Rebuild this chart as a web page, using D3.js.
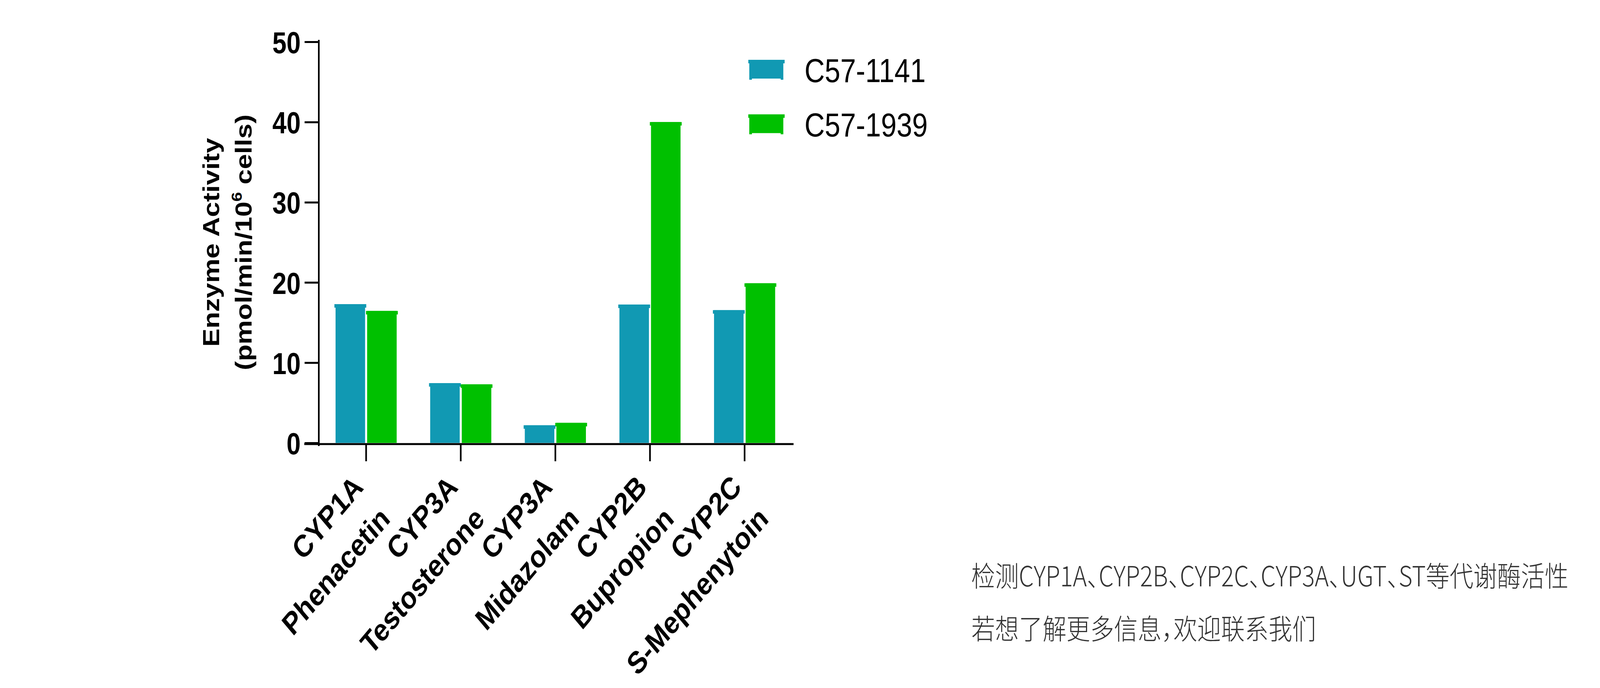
<!DOCTYPE html>
<html>
<head>
<meta charset="utf-8">
<script src="https://cdn.jsdelivr.net/npm/d3@7"></script>
<style>
  html, body { margin: 0; padding: 0; background: #ffffff; overflow: hidden; }
  svg { display: block; }
</style>
</head>
<body>
<svg id="chart"></svg>
<script>
// ---- data ----
const enzymes = ["CYP1A", "CYP3A", "CYP3A", "CYP2B", "CYP2C"];
const substrates = ["Phenacetin", "Testosterone", "Midazolam", "Bupropion", "S-Mephenytoin"];
const seriesNames = ["C57-1141", "C57-1939"];
const valuesC57_1141 = [17.3, 7.45, 2.2, 17.25, 16.55];
const valuesC57_1939 = [16.45, 7.3, 2.5, 40.0, 19.9];
const yTicks = [0, 10, 20, 30, 40, 50];
const yTitleLine1 = "Enzyme Activity";
const noteLines = ["检测CYP1A、CYP2B、CYP2C、CYP3A、UGT、ST等代谢酶活性", "若想了解更多信息，欢迎联系我们"];

const colors = ["#1199B3", "#00C000"];
const categories = enzymes.map((e, i) => e + " " + substrates[i]);
const rows = categories.map((c, i) => ({ cat: c, vals: [valuesC57_1141[i], valuesC57_1939[i]] }));

// design canvas is 4843x1760; fit it to whatever viewport the browser gives
const W = 4843, H = 1760;
const svg = d3.select("#chart")
  .attr("width", window.innerWidth || W)
  .attr("height", window.innerHeight || H)
  .attr("viewBox", `0 0 ${W} ${H}`)
  .attr("preserveAspectRatio", "none");
svg.append("rect").attr("width", W).attr("height", H).attr("fill", "#fff");

const font = "'Liberation Sans', Arial, Helvetica, sans-serif";

// scales
const y = d3.scaleLinear().domain([0, 50]).range([1133, 107]);
const x0 = d3.scaleBand().domain(categories).range([965, 2397]).padding(0);
const bw = x0.bandwidth();
const x1 = d3.scaleBand().domain(seriesNames).range([bw / 2 - 92.5, bw / 2 + 92.5]).paddingInner(0.065);

// bars
const groups = svg.append("g").selectAll("g").data(rows).join("g")
  .attr("transform", d => `translate(${x0(d.cat)},0)`);
const barData = d => d.vals.map((v, k) => ({ s: seriesNames[k], v, k }));
groups.selectAll("rect.body").data(barData).join("rect").attr("class", "body")
  .attr("x", d => x1(d.s)).attr("width", x1.bandwidth())
  .attr("y", d => y(d.v)).attr("height", d => y(0) - y(d.v))
  .attr("fill", d => colors[d.k]);
groups.selectAll("rect.cap").data(barData).join("rect").attr("class", "cap")
  .attr("x", d => x1(d.s) - 3.5).attr("width", x1.bandwidth() + 7)
  .attr("y", d => y(d.v)).attr("height", 9)
  .attr("fill", d => colors[d.k]);

// y axis
const yAxis = svg.append("g").attr("transform", "translate(965,0)")
  .call(d3.axisLeft(y).tickValues(yTicks).tickSize(43).tickSizeOuter(0).tickPadding(12));
yAxis.select(".domain").remove();
yAxis.selectAll(".tick line").attr("stroke", "#000").attr("stroke-width", 5);
yAxis.selectAll(".tick text").attr("font-family", font).attr("font-weight", "bold")
  .attr("font-size", 77).attr("fill", "#000").attr("dy", "0.37em");
svg.append("line").attr("x1", 965).attr("x2", 965).attr("y1", 102).attr("y2", 1141)
  .attr("stroke", "#000").attr("stroke-width", 5);

// x axis
const xAxis = svg.append("g").attr("transform", "translate(0,1136)")
  .call(d3.axisBottom(x0).tickSize(44).tickSizeOuter(0).tickFormat(""));
xAxis.select(".domain").remove();
xAxis.selectAll(".tick line").attr("stroke", "#000").attr("stroke-width", 5);
svg.append("line").attr("x1", 921).attr("x2", 2402).attr("y1", 1136).attr("y2", 1136)
  .attr("stroke", "#000").attr("stroke-width", 5);

// x labels (two lines, rotated)
const lab = svg.append("g").selectAll("g").data(categories).join("g")
  .attr("transform", d => `translate(${x0(d) + bw / 2 - 5},1250) rotate(-45)`);
const labText = lab.append("text").attr("text-anchor", "end").attr("font-family", font)
  .attr("font-weight", "bold").attr("font-size", 79).attr("fill", "#000");
labText.append("tspan").attr("x", 0).attr("y", 0).text((d, i) => enzymes[i]);
labText.append("tspan").attr("x", 0).attr("y", 115).text((d, i) => substrates[i]);

// y title
svg.append("text").attr("transform", "translate(663,620) rotate(-90)")
  .attr("text-anchor", "middle").attr("font-family", font).attr("font-weight", "bold")
  .attr("font-size", 70).attr("fill", "#000").text(yTitleLine1);
const t2 = svg.append("text").attr("transform", "translate(762,620) rotate(-90)")
  .attr("text-anchor", "middle").attr("font-family", font).attr("font-weight", "bold")
  .attr("font-size", 70).attr("fill", "#000");
t2.append("tspan").text("(pmol/min/10");
t2.append("tspan").attr("font-size", 44).attr("dy", -30).text("6");
t2.append("tspan").attr("dy", 30).text(" cells)");

// legend
const leg = svg.append("g").selectAll("g").data(seriesNames).join("g")
  .attr("transform", (d, i) => `translate(0,${i * 139.5})`);
leg.append("rect").attr("x", 2265).attr("y", 153).attr("width", 110).attr("height", 9)
  .attr("fill", (d, i) => colors[i]);
leg.append("rect").attr("x", 2268).attr("y", 161).attr("width", 103).attr("height", 40)
  .attr("fill", (d, i) => colors[i]);
leg.append("rect").attr("x", 2268).attr("y", 200).attr("width", 8).attr("height", 4)
  .attr("fill", (d, i) => colors[i]);
leg.append("rect").attr("x", 2363).attr("y", 200).attr("width", 8).attr("height", 4)
  .attr("fill", (d, i) => colors[i]);
leg.append("text").attr("x", 2435).attr("y", 210).attr("font-family", font)
  .attr("font-size", 85).attr("fill", "#000").text(d => d);

// note text
svg.append("g").selectAll("text").data(noteLines).join("text")
  .attr("x", 2940).attr("y", (d, i) => 1500 + i * 135)
  .attr("font-family", "'Noto Sans CJK SC', 'Noto Sans', sans-serif")
  .attr("font-weight", 300).attr("font-size", 72).attr("fill", "#333")
  .style("font-feature-settings", "'halt' 1")
  .text(d => d);
</script>
</body>
</html>
